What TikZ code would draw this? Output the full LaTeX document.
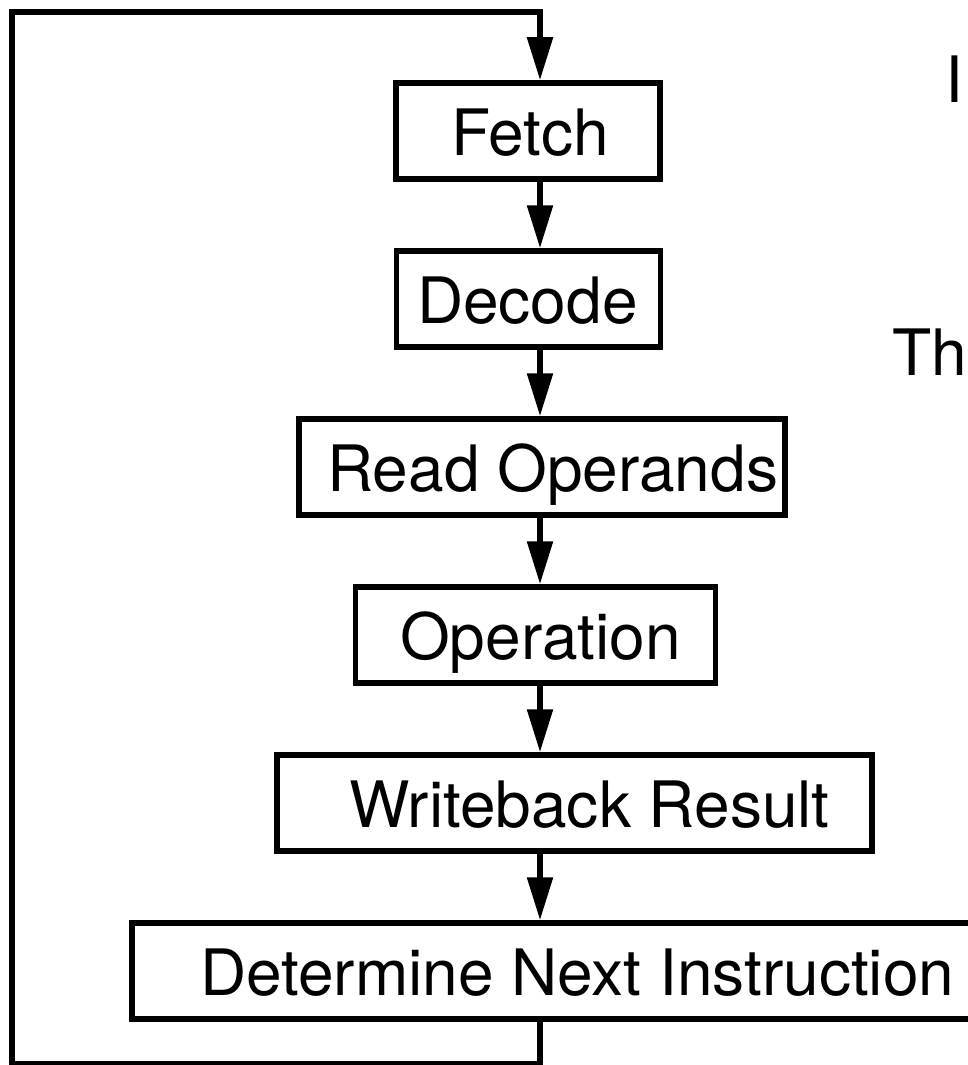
\documentclass[tikz,border=0pt]{standalone}
\usepackage{fontspec}
\setmainfont{TeX Gyre Heros}
\usetikzlibrary{arrows.meta}
\tikzset{
  stagebox/.style={draw=black, line width=5.5pt, rectangle, minimum height=96pt, inner sep=0pt, outer sep=auto},
  lbl/.style={inner sep=0pt, anchor=base west, font=\fontsize{64}{76}\selectfont},
  flow/.style={draw=black, line width=5.5pt, line join=miter, -{Triangle[length=43pt, width=25pt]}},
}
\begin{document}
\begin{tikzpicture}[x=1pt, y=-1pt]
\useasboundingbox (0,0) rectangle (967,1065);
\fill[white] (0,0) rectangle (967,1065);
\coordinate (axis) at (540,0);
\coordinate (tl) at (12,12);
\coordinate (bl) at (12,1064);
% boxes
\node[stagebox, minimum width=264pt] (fetch) at (528,131) {};
\node[stagebox, minimum width=264pt] (decode) at (528.5,299) {};
\node[stagebox, minimum width=486pt] (readop) at (542,467) {};
\node[stagebox, minimum width=360pt] (oper) at (535.5,635) {};
\node[stagebox, minimum width=595pt] (wback) at (574.5,803) {};
\node[stagebox, minimum width=880pt] (dni) at (572,971) {};
% labels
\node[lbl] (fetcht) at (451,155) {Fetch};
\node[lbl] (decodet) at (417,323) {Decode};
\node[lbl] (readopt) at (327,491) {Read Operands};
\node[lbl] (opert) at (400,659) {Operation};
\node[lbl] (wbackt) at (349,827) {Writeback Result};
\node[lbl] (dnit) at (200,995) {Determine Next Instruction};
\node[lbl] (sideI) at (945,102) {I};
\node[lbl] (sideTh) at (892,375) {Th};
% connectors
\draw[flow] (axis |- fetch.south) -- (axis |- decode.north);
\draw[flow] (axis |- decode.south) -- (axis |- readop.north);
\draw[flow] (axis |- readop.south) -- (axis |- oper.north);
\draw[flow] (axis |- oper.south) -- (axis |- wback.north);
\draw[flow] (axis |- wback.south) -- (axis |- dni.north);
\draw[flow] (axis |- dni.south) |- (bl) -- (tl) -| (axis |- fetch.north);
\end{tikzpicture}
\end{document}
